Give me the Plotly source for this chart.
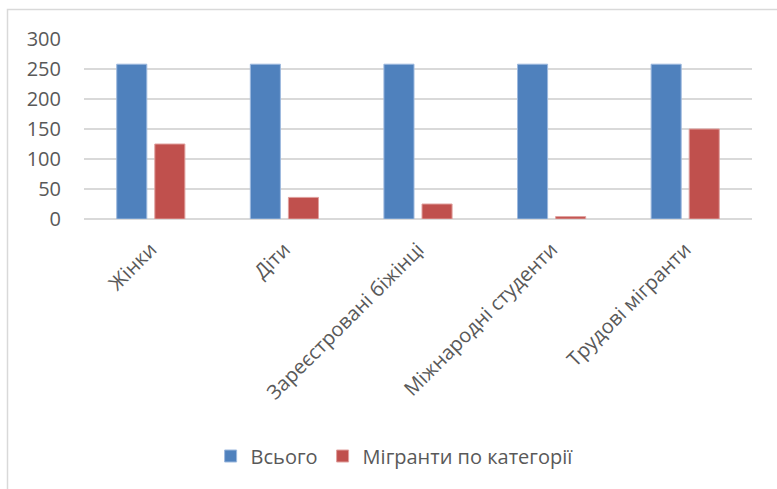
import plotly.graph_objects as go

categories = ["Жінки", "Діти", "Зареєстровані біжінці", "Міжнародні студенти", "Трудові мігранти"]
total = [258, 258, 258, 258, 258]
migrants = [125, 36, 25, 4, 150]
y_ticks = [0, 50, 100, 150, 200, 250, 300]

W, H = 777, 489
L, R, T, B = 84, 25, 39, 270
FONT = "Open Sans"
TEXT = "#595959"

fig = go.Figure()
fig.add_trace(go.Bar(
    name="Всього", x=categories, y=total,
    marker=dict(color="#4F81BD", line=dict(color="#9DB9DE", width=1)),
))
fig.add_trace(go.Bar(
    name="Мігранти по категорії", x=categories, y=migrants,
    marker=dict(color="#C0504D", line=dict(color="#E0A09E", width=1)),
))

# outer frame (top and left edges visible)
pw, ph = W - L - R, H - T - B
def px_x(p):
    return (p - L) / pw
def px_y(p):
    return (H - B - p) / ph

fig.add_shape(
    type="path", xref="paper", yref="paper",
    path=f"M {px_x(7.5)} {px_y(489)} L {px_x(7.5)} {px_y(9.5)} L {px_x(777)} {px_y(9.5)}",
    line=dict(color="#D9D9D9", width=1.5),
)

fig.update_layout(
    width=W, height=H,
    margin=dict(l=L, r=R, t=T, b=B),
    paper_bgcolor="white", plot_bgcolor="white",
    barmode="group", bargap=0.43, bargroupgap=0.21,
    font=dict(family=FONT, color=TEXT),
    showlegend=True,
    legend=dict(
        orientation="h", x=0.465, xanchor="center", y=px_y(456), yanchor="middle",
        font=dict(size=20, color=TEXT, family=FONT),
        itemwidth=30, traceorder="normal",
    ),
)
fig.update_xaxes(
    tickangle=-45, tickfont=dict(size=20, color=TEXT, family=FONT),
    showline=False, showgrid=False, ticks="outside", tickcolor="rgba(0,0,0,0)",
    ticklen=10, fixedrange=True,
)
fig.update_yaxes(
    range=[0, 300], tickvals=y_ticks,
    tickfont=dict(size=20, color=TEXT, family=FONT),
    showgrid=True, gridcolor="#D9D9D9", gridwidth=1.5,
    zeroline=True, zerolinecolor="#D9D9D9", zerolinewidth=1.5,
    showline=False, ticks="outside", tickcolor="rgba(0,0,0,0)", ticklen=18,
    fixedrange=True,
)

fig.write_html("out.html")
